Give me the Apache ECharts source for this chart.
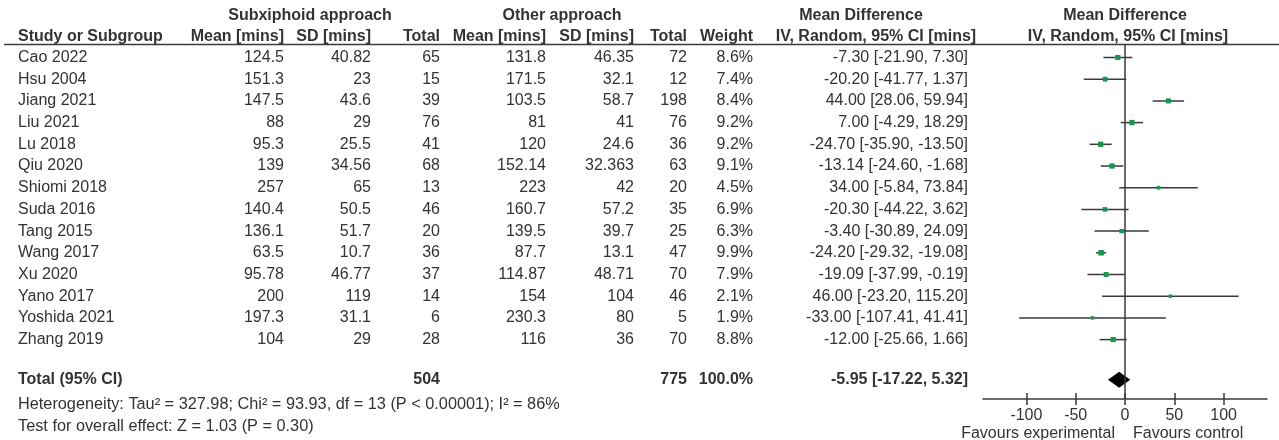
<!DOCTYPE html>
<html>
<head>
<meta charset="utf-8">
<script src="https://cdn.jsdelivr.net/npm/echarts@6/dist/echarts.min.js"></script>
<style>
html,body{margin:0;padding:0;background:#fff;}
#chart{width:1279px;height:440px;}
</style>
</head>
<body>
<div id="chart"></div>
<script>
// ---------- data ----------
const studies = ['Cao 2022','Hsu 2004','Jiang 2021','Liu 2021','Lu 2018','Qiu 2020','Shiomi 2018','Suda 2016','Tang 2015','Wang 2017','Xu 2020','Yano 2017','Yoshida 2021','Zhang 2019'];
const subMean = [124.5,151.3,147.5,88,95.3,139,257,140.4,136.1,63.5,95.78,200,197.3,104];
const subSD   = [40.82,23,43.6,29,25.5,34.56,65,50.5,51.7,10.7,46.77,119,31.1,29];
const subN    = [65,15,39,76,41,68,13,46,20,36,37,14,6,28];
const othMean = [131.8,171.5,103.5,81,120,152.14,223,160.7,139.5,87.7,114.87,154,230.3,116];
const othSD   = [46.35,32.1,58.7,41,24.6,32.363,42,57.2,39.7,13.1,48.71,104,80,36];
const othN    = [72,12,198,76,36,63,20,35,25,47,70,46,5,70];
const weight  = [8.6,7.4,8.4,9.2,9.2,9.1,4.5,6.9,6.3,9.9,7.9,2.1,1.9,8.8];
const md      = [-7.30,-20.20,44.00,7.00,-24.70,-13.14,34.00,-20.30,-3.40,-24.20,-19.09,46.00,-33.00,-12.00];
const ciLo    = [-21.90,-41.77,28.06,-4.29,-35.90,-24.60,-5.84,-44.22,-30.89,-29.32,-37.99,-23.20,-107.41,-25.66];
const ciHi    = [7.30,1.37,59.94,18.29,-13.50,-1.68,73.84,3.62,24.09,-19.08,-0.19,115.20,41.41,1.66];
const totalSubN = 504;
const totalOthN = 775;
const totalWeight = 100.0;
const pooled = [-5.95,-17.22,5.32];
const heterogeneityText = 'Heterogeneity: Tau² = 327.98; Chi² = 93.93, df = 13 (P < 0.00001); I² = 86%';
const overallText = 'Test for overall effect: Z = 1.03 (P = 0.30)';
const tickValues = [-100,-50,0,50,100];
const favours = ['Favours experimental','Favours control'];

// ---------- layout ----------
const ROW0 = 57.5, ROWH = 21.7;
const FONT = "'Liberation Sans', Arial, sans-serif";
const TXT = '#333333';
const LINE = '#3a3a3a';
const GREEN = '#129a4c';
const FS = 16;
const rowOf = px => (px - ROW0) / ROWH;
const TOTAL_ROW = 14.85, HET_ROW = 16.0, TEST_ROW = 17.0;
const H1 = rowOf(16), H2 = rowOf(37);

const fmt2 = v => v.toFixed(2);
const ciText = (m,l,h) => fmt2(m) + ' [' + fmt2(l) + ', ' + fmt2(h) + ']';

// columns: right edges
const C = {name:18, sMean:284, sSD:371, sN:440, oMean:546, oSD:634, oN:687, w:753, ci:968};

const cells = [];
function add(x,row,text,align,bold,size){cells.push({x,row,text:String(text),align,bold,size:size||FS});}
// headers
add(310,H1,'Subxiphoid approach','center',true);
add(562,H1,'Other approach','center',true);
add(861,H1,'Mean Difference','center',true);
add(1125,H1,'Mean Difference','center',true);
add(C.name,H2,'Study or Subgroup','left',true);
add(C.sMean,H2,'Mean [mins]','right',true);
add(C.sSD,H2,'SD [mins]','right',true);
add(C.sN,H2,'Total','right',true);
add(C.oMean,H2,'Mean [mins]','right',true);
add(C.oSD,H2,'SD [mins]','right',true);
add(C.oN,H2,'Total','right',true);
add(C.w,H2,'Weight','right',true);
add(876,H2,'IV, Random, 95% CI [mins]','center',true);
add(1128,H2,'IV, Random, 95% CI [mins]','center',true);
// study rows
studies.forEach((s,i)=>{
  add(C.name,i,s,'left',false);
  add(C.sMean,i,subMean[i],'right',false);
  add(C.sSD,i,subSD[i],'right',false);
  add(C.sN,i,subN[i],'right',false);
  add(C.oMean,i,othMean[i],'right',false);
  add(C.oSD,i,othSD[i],'right',false);
  add(C.oN,i,othN[i],'right',false);
  add(C.w,i,weight[i].toFixed(1)+'%','right',false);
  add(C.ci,i,ciText(md[i],ciLo[i],ciHi[i]),'right',false);
});
// total
add(C.name,TOTAL_ROW,'Total (95% CI)','left',true);
add(C.sN,TOTAL_ROW,totalSubN,'right',true);
add(C.oN,TOTAL_ROW,totalOthN,'right',true);
add(C.w,TOTAL_ROW,totalWeight.toFixed(1)+'%','right',true);
add(C.ci,TOTAL_ROW,ciText(pooled[0],pooled[1],pooled[2]),'right',true);
add(C.name,HET_ROW,heterogeneityText,'left',false,16.3);
add(C.name,TEST_ROW,overallText,'left',false,16.3);

const chart = echarts.init(document.getElementById('chart'), null, {renderer:'canvas'});

const forestTop = 44, forestBottomPx = 399;
const option = {
  animation:false,
  backgroundColor:'#fff',
  grid:[
    {left:0, top:0, width:1279, height:440, show:false},
    {left:983, top:forestTop, width:284, height:forestBottomPx-forestTop, show:false}
  ],
  xAxis:[
    {gridIndex:0, type:'value', min:0, max:1279, show:false},
    {gridIndex:1, type:'value', min:-144, max:144, position:'bottom',
      axisLine:{show:true, onZero:false, lineStyle:{color:LINE, width:1.5}},
      axisTick:{show:true, customValues:tickValues, length:6, lineStyle:{color:LINE, width:1.5}},
      axisLabel:{show:true, customValues:tickValues, color:TXT, fontFamily:FONT, fontSize:FS, margin:9},
      splitLine:{show:false}},
    {gridIndex:1, type:'value', min:-144, max:144, position:'bottom',
      axisLine:{show:false, onZero:false},
      axisTick:{show:true, inside:true, customValues:tickValues, length:6, lineStyle:{color:LINE, width:1.5}},
      axisLabel:{show:false}, splitLine:{show:false}}
  ],
  yAxis:[
    {gridIndex:0, type:'value', inverse:true, min:rowOf(0), max:rowOf(440), show:false},
    {gridIndex:1, type:'value', inverse:true, min:rowOf(forestTop), max:rowOf(forestBottomPx), show:false}
  ],
  graphic:[
    {type:'line', shape:{x1:4, y1:44.5, x2:1279, y2:44.5}, style:{stroke:LINE, lineWidth:1.5}}
  ],
  series:[
    {
      type:'custom', xAxisIndex:0, yAxisIndex:0, clip:false, silent:true,
      data: cells.map((c,i)=>[c.x, c.row, i]),
      renderItem:(params, api)=>{
        const c = cells[params.dataIndex];
        const p = api.coord([api.value(0), api.value(1)]);
        return {type:'text', x:p[0], y:p[1], style:{text:c.text, fill:TXT,
          font:(c.bold?'bold ':'')+c.size+'px '+FONT, textAlign:c.align, textVerticalAlign:'middle'}};
      }
    },
    {
      type:'custom', xAxisIndex:1, yAxisIndex:1, clip:false, silent:true,
      data: studies.map((s,i)=>[md[i], i, ciLo[i], ciHi[i], weight[i]]),
      renderItem:(params, api)=>{
        const row = api.value(1);
        const a = api.coord([api.value(2), row]);
        const b = api.coord([api.value(3), row]);
        const m = api.coord([api.value(0), row]);
        const s = Math.max(3.5, 1.75*Math.sqrt(api.value(4)));
        return {type:'group', children:[
          {type:'line', shape:{x1:a[0], y1:a[1], x2:b[0], y2:b[1]}, style:{stroke:LINE, lineWidth:1.5}},
          {type:'rect', shape:{x:m[0]-s/2, y:m[1]-s/2, width:s, height:s}, style:{fill:GREEN}}
        ]};
      },
      markLine:{silent:true, symbol:'none', label:{show:false},
        lineStyle:{color:LINE, width:1.5, type:'solid'},
        data:[{xAxis:0}]}
    },
    {
      type:'custom', xAxisIndex:1, yAxisIndex:1, clip:false, silent:true,
      data:[[pooled[0], TOTAL_ROW, pooled[1], pooled[2]]],
      renderItem:(params, api)=>{
        const row = api.value(1);
        const m = api.coord([api.value(0), row]);
        const l = api.coord([api.value(2), row]);
        const r = api.coord([api.value(3), row]);
        const h = 8;
        return {type:'polygon', shape:{points:[[l[0],m[1]],[m[0],m[1]-h],[r[0],m[1]],[m[0],m[1]+h]]}, style:{fill:'#000'}};
      }
    },
    {
      type:'custom', xAxisIndex:1, yAxisIndex:1, clip:false, silent:true,
      data:[[0, rowOf(434), 0],[0, rowOf(434), 1]],
      renderItem:(params, api)=>{
        const p = api.coord([api.value(0), api.value(1)]);
        const left = api.value(2) === 0;
        return {type:'text', x:p[0] + (left ? -10 : 8), y:p[1],
          style:{text:favours[api.value(2)], fill:TXT, font:FS+'px '+FONT,
            textAlign:left?'right':'left', textVerticalAlign:'middle'}};
      }
    }
  ]
};
chart.setOption(option);
</script>
</body>
</html>
